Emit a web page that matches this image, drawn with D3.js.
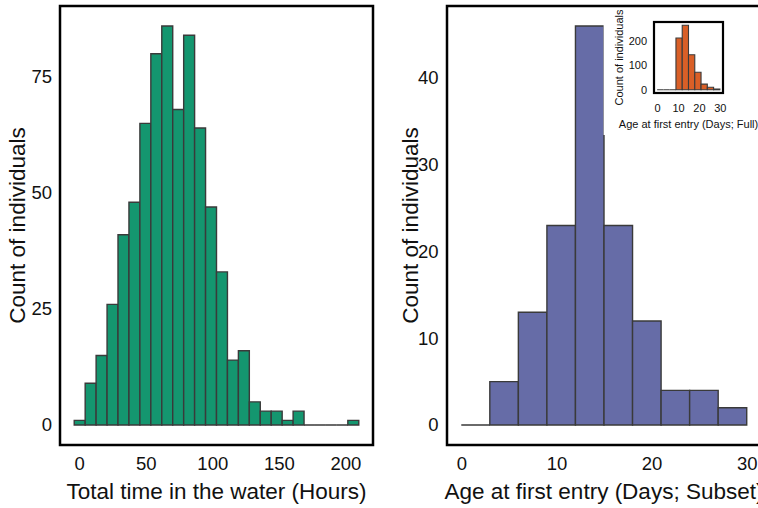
<!DOCTYPE html>
<html>
<head>
<meta charset="utf-8">
<script src="https://cdn.jsdelivr.net/npm/d3@7"></script>
<style>
    body { margin: 0; background: #fff; }
    svg text { font-family: "Liberation Sans", Arial, Helvetica, sans-serif; fill: #111; }
</style>
</head>
<body>
<div id="chart"></div>
<script>
// Left panel: total time in the water (hours), 26 bins
var waterBinStart = -3.7;
var waterBinWidth = 8.22;
var waterCounts = [1, 9, 15, 26, 41, 48, 65, 80, 86, 68, 84, 64, 47,
                   33, 14, 16, 5, 3, 3, 1, 3, 0, 0, 0, 0, 1];
var waterXTicks = [0, 50, 100, 150, 200];
var waterYTicks = [0, 25, 50, 75];

// Right panel: age at first entry, subset (days)
var subsetBinStart = 0;
var subsetBinWidth = 3;
var subsetCounts = [0, 5, 13, 23, 46, 23, 12, 4, 4, 2];
var subsetXTicks = [0, 10, 20, 30];
var subsetYTicks = [0, 10, 20, 30, 40];

// Inset: age at first entry, full data (days)
var fullBinStart = 0;
var fullBinWidth = 3;
var fullCounts = [0, 0, 0, 210, 262, 142, 71, 23, 10, 3];
var fullXTicks = [0, 10, 20, 30];
var fullYTicks = [0, 100, 200];

(function () {
    'use strict';

    var svg = d3.select('#chart')
        .append('svg')
        .attr('width', 758)
        .attr('height', 508);

    // turn counts into bins with lower/upper edges
    function makeBins(start, width, counts) {
        return counts.map(function (c, i) {
            return {x0: start + i * width, x1: start + (i + 1) * width, count: c};
        });
    }

    // ggplot-like 5% expansion of a range
    function expand(lo, hi) {
        var pad = (hi - lo) * 0.05;
        return [lo - pad, hi + pad];
    }

    /**
     * Draw one histogram panel.
     * opts: bins, box {x0, x1, y0, y1}, fill, xTicks, yTicks, xTitle, yTitle,
     *       font sizes and offsets
     */
    function drawHist(opts) {
        var bins = opts.bins;
        var box = opts.box;

        var x = d3.scaleLinear()
            .domain(expand(bins[0].x0, bins[bins.length - 1].x1))
            .range([box.x0, box.x1]);

        var y = d3.scaleLinear()
            .domain(expand(0, d3.max(bins, function (d) { return d.count; })))
            .range([box.y1, box.y0]);

        var g = svg.append('g');

        // bars as closed paths so that empty bins still show a flat line
        g.selectAll('.bar')
            .data(bins)
            .enter().append('path')
            .attr('class', 'bar')
            .attr('d', function (d) {
                return 'M' + x(d.x0) + ',' + y(0) +
                    'V' + y(d.count) +
                    'H' + x(d.x1) +
                    'V' + y(0) + 'Z';
            })
            .style('fill', opts.fill)
            .style('stroke', '#3a3a3a')
            .style('stroke-width', opts.barStroke);

        // panel border
        g.append('rect')
            .attr('x', box.x0)
            .attr('y', box.y0)
            .attr('width', box.x1 - box.x0)
            .attr('height', box.y1 - box.y0)
            .style('fill', 'none')
            .style('stroke', '#000')
            .style('stroke-width', opts.borderWidth);

        // x axis
        var xAxis = g.append('g')
            .attr('transform', 'translate(0,' + box.y1 + ')')
            .call(d3.axisBottom(x).tickValues(opts.xTicks).tickSize(0).tickPadding(opts.xPad));
        xAxis.select('.domain').remove();
        xAxis.selectAll('text')
            .style('font-size', opts.tickSize + 'px')
            .style('fill', '#111');

        // y axis
        var yAxis = g.append('g')
            .attr('transform', 'translate(' + box.x0 + ',0)')
            .call(d3.axisLeft(y).tickValues(opts.yTicks).tickSize(0).tickPadding(opts.yPad));
        yAxis.select('.domain').remove();
        yAxis.selectAll('text')
            .style('font-size', opts.tickSize + 'px')
            .style('fill', '#111');

        // axis titles
        g.append('text')
            .attr('x', (box.x0 + box.x1) / 2)
            .attr('y', opts.xTitleY)
            .attr('text-anchor', 'middle')
            .style('font-size', opts.titleSize + 'px')
            .text(opts.xTitle);

        g.append('text')
            .attr('transform', 'translate(' + opts.yTitleX + ',' + (box.y0 + box.y1) / 2 + ') rotate(-90)')
            .attr('text-anchor', 'middle')
            .style('font-size', opts.titleSize + 'px')
            .text(opts.yTitle);
    }

    drawHist({
        bins: makeBins(waterBinStart, waterBinWidth, waterCounts),
        box: {x0: 60, x1: 373, y0: 6, y1: 445},
        fill: '#14966f',
        xTicks: waterXTicks,
        yTicks: waterYTicks,
        xTitle: 'Total time in the water (Hours)',
        yTitle: 'Count of individuals',
        tickSize: 18.5, titleSize: 22.5,
        xPad: 12, yPad: 8,
        xTitleY: 499, yTitleX: 24.5,
        barStroke: 1.4, borderWidth: 2.5
    });

    drawHist({
        bins: makeBins(subsetBinStart, subsetBinWidth, subsetCounts),
        box: {x0: 447, x1: 761, y0: 6, y1: 445},
        fill: '#666ca7',
        xTicks: subsetXTicks,
        yTicks: subsetYTicks,
        xTitle: 'Age at first entry (Days; Subset)',
        yTitle: 'Count of individuals',
        tickSize: 18.5, titleSize: 22.5,
        xPad: 12, yPad: 8.5,
        xTitleY: 499, yTitleX: 418,
        barStroke: 1.4, borderWidth: 2.5
    });

    // white background of the inset viewport
    svg.append('rect')
        .attr('x', 603.6)
        .attr('y', 8)
        .attr('width', 160)
        .attr('height', 127)
        .style('fill', '#fff');

    drawHist({
        bins: makeBins(fullBinStart, fullBinWidth, fullCounts),
        box: {x0: 654, x1: 723, y0: 22, y1: 93},
        fill: '#d95f27',
        xTicks: fullXTicks,
        yTicks: fullYTicks,
        xTitle: 'Age at first entry (Days; Full)',
        yTitle: 'Count of individuals',
        tickSize: 11, titleSize: 11,
        xPad: 11, yPad: 7,
        xTitleY: 127.5, yTitleX: 622.5,
        barStroke: 1.1, borderWidth: 2.2
    });
})();
</script>
</body>
</html>
